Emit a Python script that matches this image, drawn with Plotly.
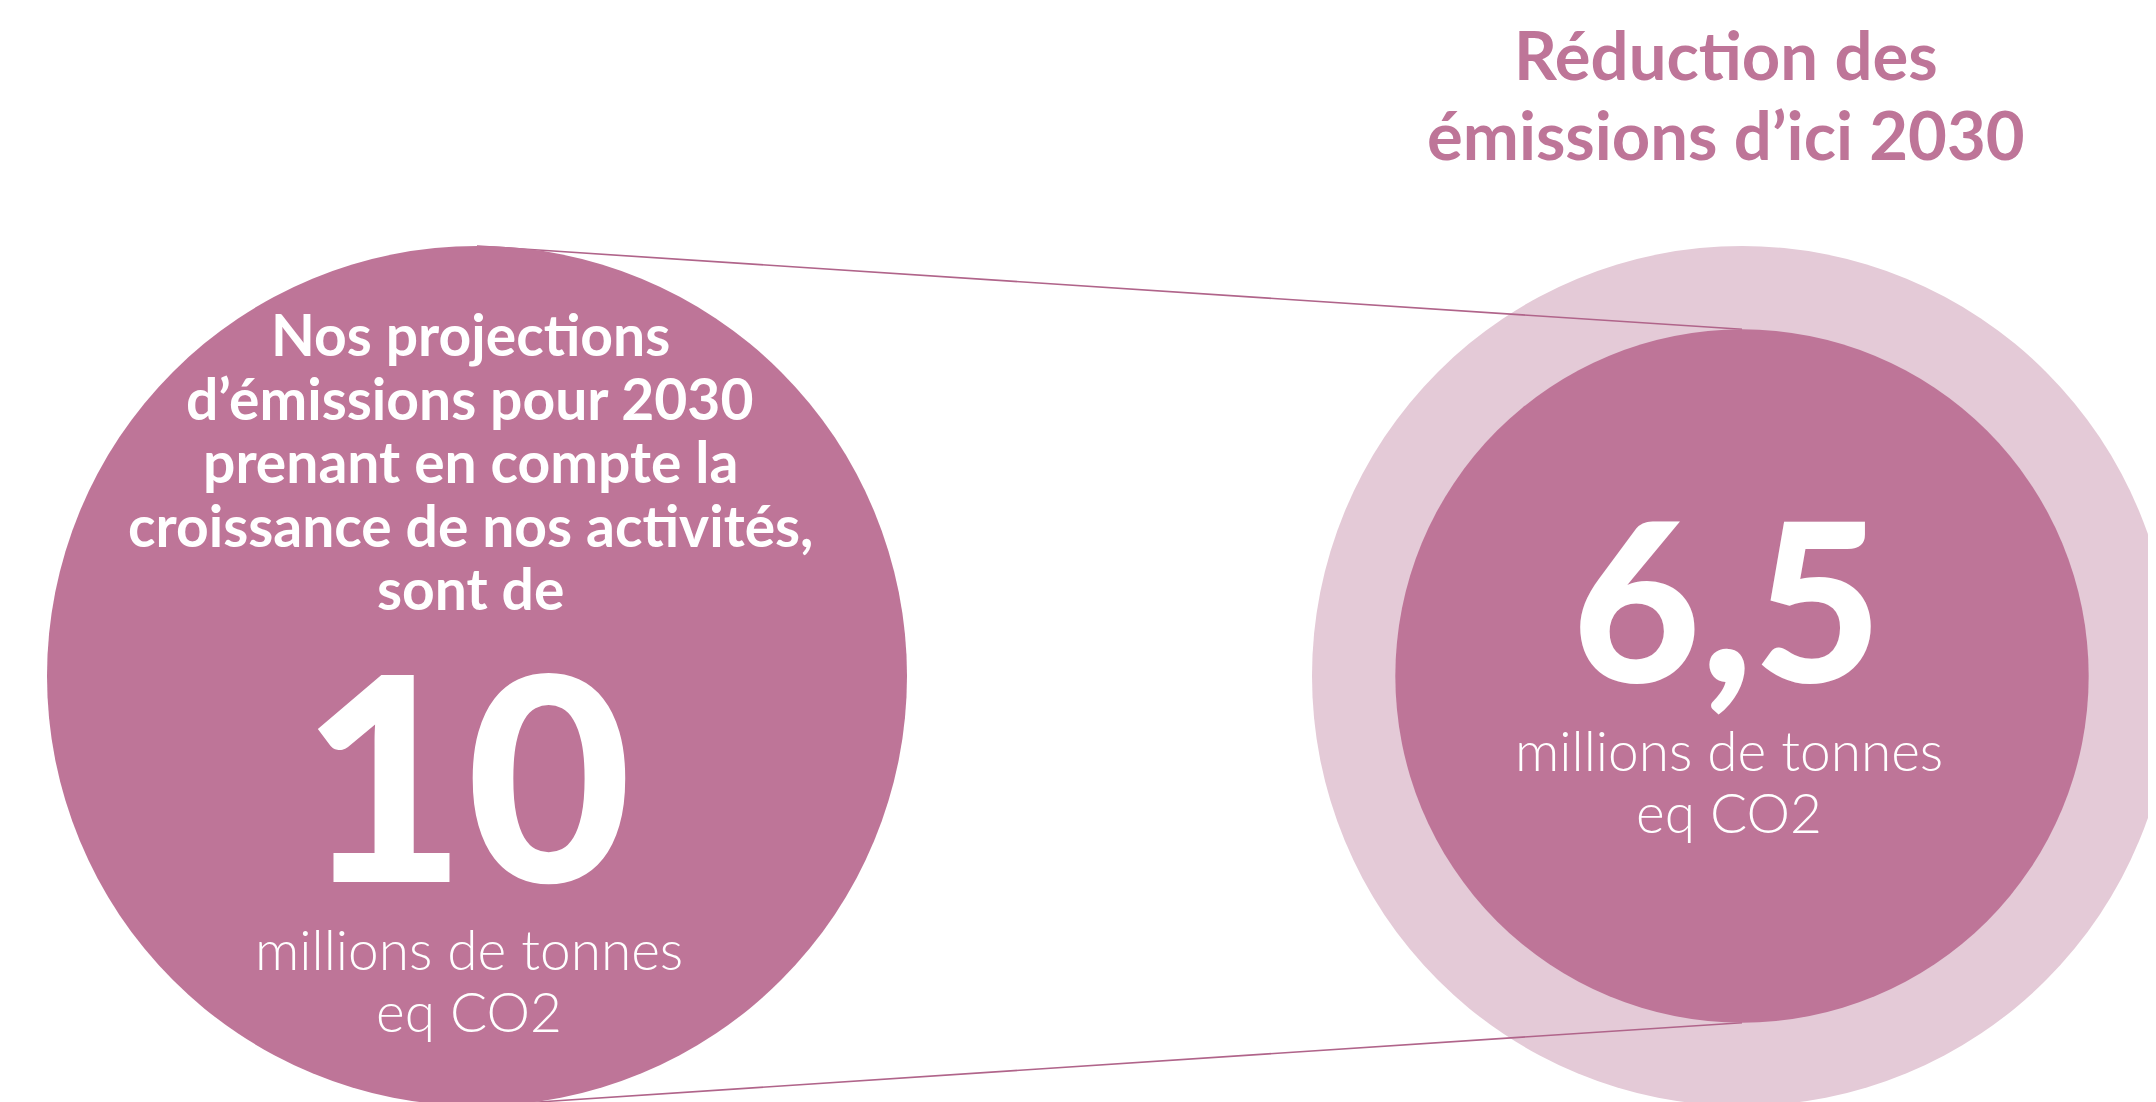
import math
import plotly.graph_objects as go

# ---- data ----
scenario_names = ["Projection 2030", "Objectif 2030"]
values = [10, 6.5]                 # millions de tonnes eq CO2
value_labels = ["10", "6,5"]
unit_lines = ["millions de tonnes", "eq CO2"]
left_lines = ["Nos projections", "d’émissions pour 2030", "prenant en compte la",
              "croissance de nos activités,", "sont de"]
title_lines = ["Réduction des", "émissions d’ici 2030"]

# ---- layout / style ----
W, H = 2156, 1102
OFF = 8  # page body margin
PINK = "#BE7598"
LIGHT = "#E4CAD7"
LINE = "#B0648A"
R_MAX = 430
LEFT_C = (477, 676)
RIGHT_C = (1742, 676)

r_base = R_MAX * math.sqrt(values[0] / max(values))
r_target = R_MAX * math.sqrt(values[1] / max(values))

fig = go.Figure()
fig.add_trace(go.Scatter(x=[OFF, W], y=[OFF, H], mode="markers",
                         marker=dict(opacity=0), hoverinfo="skip", showlegend=False))

def circle(c, r, color):
    return dict(type="circle", xref="x", yref="y",
                x0=c[0] - r, x1=c[0] + r, y0=c[1] - r, y1=c[1] + r,
                fillcolor=color, line=dict(width=0), layer="above")

shapes = [
    circle(RIGHT_C, r_base, LIGHT),
    dict(type="line", xref="x", yref="y", x0=LEFT_C[0], y0=LEFT_C[1] - r_base,
         x1=RIGHT_C[0], y1=RIGHT_C[1] - r_target, line=dict(color=LINE, width=1.6), layer="above"),
    dict(type="line", xref="x", yref="y", x0=LEFT_C[0], y0=LEFT_C[1] + r_base,
         x1=RIGHT_C[0], y1=RIGHT_C[1] + r_target, line=dict(color=LINE, width=1.6), layer="above"),
    circle(LEFT_C, r_base, PINK),
    circle(RIGHT_C, r_target, PINK),
]

ann = []
def add(text, x, y, size, color="white", weight="normal", family="Lato"):
    ann.append(dict(text=text, x=x, y=y, xref="x", yref="y", showarrow=False,
                    xanchor="center", yanchor="middle", align="center",
                    font=dict(family=family, size=size, color=color, weight=weight)))

def add_lines(lines, x, first_baseline, spacing, size, **kw):
    for i, t in enumerate(lines):
        add(t, x, first_baseline + i * spacing - 0.36 * size, size, **kw)

add_lines(title_lines, 1726, 78, 80, 67, color=PINK, weight="bold")
add_lines(left_lines, 470, 355, 63.5, 57, weight="bold")
add(value_labels[0], 466, 772, 285, weight=900)
add_lines(unit_lines, 469, 969, 62, 55, weight=300)
add(value_labels[1], 1727, 596, 222, weight=900)
add_lines(unit_lines, 1729, 770, 62, 55, weight=300)

fig.update_layout(
    width=W, height=H, margin=dict(l=0, r=0, t=0, b=0),
    paper_bgcolor="white", plot_bgcolor="white",
    xaxis=dict(range=[OFF, W + OFF], visible=False, fixedrange=True),
    yaxis=dict(range=[H + OFF, OFF], visible=False, fixedrange=True),
    shapes=shapes, annotations=ann, showlegend=False,
)
fig.write_html("out.html")
